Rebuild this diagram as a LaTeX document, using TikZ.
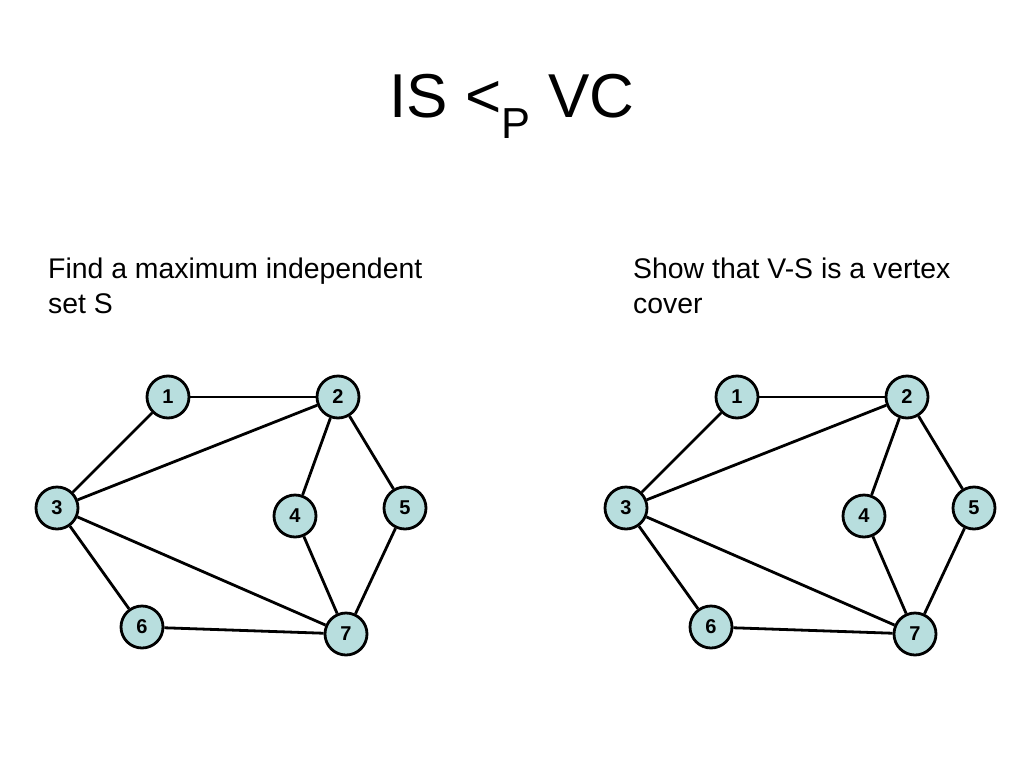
\documentclass[tikz,border=0pt]{standalone}
\usepackage{fontspec}
\setmainfont{Liberation Sans}
\usetikzlibrary{calc}
\definecolor{vertexfill}{RGB}{184,222,222}
\tikzstyle{vertex}=[circle,draw=black,line width=2.8pt,fill=vertexfill,minimum size=42pt,inner sep=0pt,font=\fontsize{20}{20}\selectfont\bfseries]
\tikzstyle{edge}=[black,line width=2.8pt]
\tikzstyle{caption}=[anchor=north west,align=left,inner sep=0pt,font=\fontsize{28.4}{35}\selectfont]
\newcommand{\drawISgraph}[2]{% Syntax: {name prefix}{x shift}
\begin{scope}[xshift=#2]
  \node[vertex] (#1-1) at (168,397) {1};
  \node[vertex] (#1-2) at (338,397) {2};
  \node[vertex] (#1-3) at (57,508) {3};
  \node[vertex] (#1-4) at (295,516) {4};
  \node[vertex] (#1-5) at (405,508) {5};
  \node[vertex] (#1-6) at (142,627) {6};
  \node[vertex] (#1-7) at (346,634) {7};
  \end{scope}
  \foreach \a/\b in {1/2,1/3,2/3,2/4,2/5,3/6,3/7,4/7,5/7,6/7}
    \draw[edge] (#1-\a) -- (#1-\b);
}
\begin{document}
\begin{tikzpicture}[x=1pt,y=-1pt]
  \useasboundingbox (0,0) rectangle (1024,768);
  \node (title) at (512,106) {\fontsize{62}{62}\selectfont IS <\textsubscript{P} VC};
  \node[caption] (findtext) at (48,258) {Find a maximum independent\\set S};
  \node[caption] (showtext) at (633,258) {Show that V-S is a vertex\\cover};
  \drawISgraph{L}{0}
  \drawISgraph{R}{569}
  %\draw[red] (0,0) grid[step=100] (1024,768); % use this to debug
\end{tikzpicture}
\end{document}
